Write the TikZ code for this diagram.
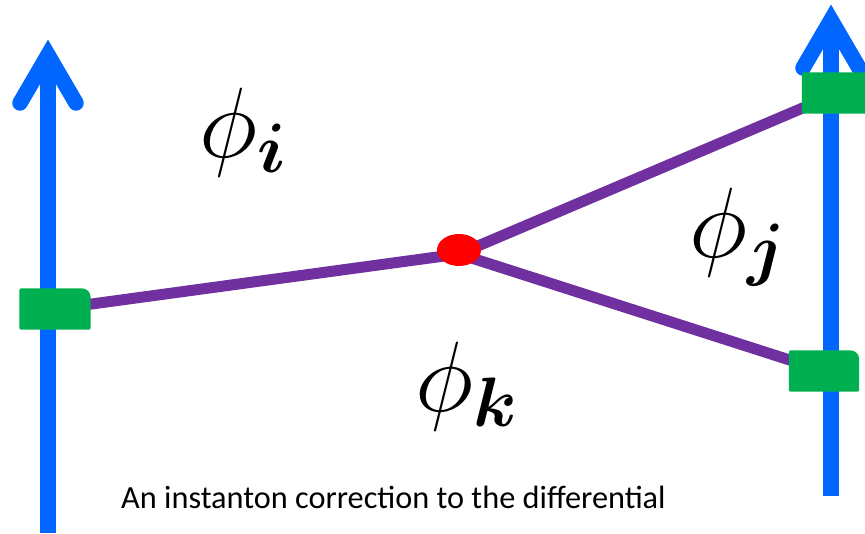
\RequirePackage{fix-cm}
\documentclass[tikz,border=0pt]{standalone}
\usepackage{fontspec}
\usepackage{amsmath}
\usepackage{bm}
\usetikzlibrary{shapes.geometric}
\newfontfamily\capfont{Carlito}
\definecolor{arrowblue}{RGB}{0,102,255}
\definecolor{boxgreen}{RGB}{0,176,80}
\definecolor{linepurple}{RGB}{112,48,160}
\definecolor{dotred}{RGB}{255,0,0}
\tikzset{
  shaft/.style={draw=arrowblue,line width=15.5pt},
  headline/.style={draw=arrowblue,line width=15.5pt,line cap=round,miter limit=10,line join=miter},
  boxslot/.style={rectangle,inner sep=0pt,minimum width=#1,minimum height=41pt},
  wire/.style={draw=linepurple,line width=11pt},
  philabel/.style={inner sep=0pt,anchor=base west,font=\fontsize{100}{100}\selectfont},
}
\newcommand{\greenbox}[1]{\fill[boxgreen] (#1.south west) [rounded corners=2pt] -- (#1.north west) [rounded corners=9pt] -- (#1.north east) [rounded corners=2pt] -- (#1.south east) -- cycle;}
\begin{document}
\begin{tikzpicture}[x=1pt,y=-1pt]
\useasboundingbox (0,0) rectangle (865,533);
% slots
\node[boxslot=71pt] (L) at (55,309) {};
\node[boxslot=72pt] (RT) at (838,93) {};
\node[boxslot=70pt] (RB) at (824,371) {};
\coordinate (X) at (459,254);
% left arrow
\coordinate (LB) at (48,533);
\coordinate (LV) at (48,55);
\draw[shaft] (LB) -- ([yshift=-5pt]LV);
\draw[headline] ([xshift=-28pt,yshift=-48pt]LV) -- (LV) -- ([xshift=28pt,yshift=-48pt]LV);
% right arrow
\coordinate (RBot) at (831,496);
\coordinate (RV) at (831,20);
\draw[shaft] (RBot) -- ([yshift=-5pt]RV);
\draw[headline] ([xshift=-28pt,yshift=-48pt]RV) -- (RV) -- ([xshift=28pt,yshift=-48pt]RV);
% wires
\draw[wire] (L.center) -- (X);
\draw[wire] (X) -- (RT.center);
\draw[wire] (X) -- (RB.center);
% boxes
\greenbox{L}
\greenbox{RT}
\greenbox{RB}
% dot
\node[ellipse,fill=dotred,inner sep=0pt,minimum width=44pt,minimum height=32pt] (E) at (459,250) {};
% labels
\node[philabel] (pi) at (199,157) {$\phi_{\bm{i}}$};
\node[philabel] (pj) at (689,257) {$\phi_{\bm{j}}$};
\node[philabel] (pk) at (415,411) {$\phi_{\bm{k}}$};
\node[inner sep=0pt,anchor=base west,font=\capfont\fontsize{32.3}{32.3}\selectfont] (cap) at (121,508) {An instanton correction to the differential};
\end{tikzpicture}
\end{document}
